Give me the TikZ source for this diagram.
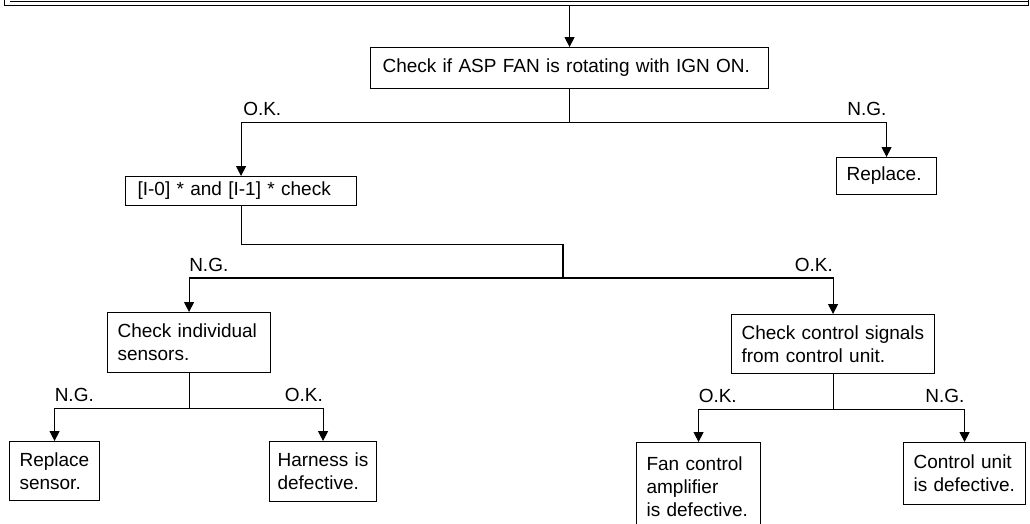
\documentclass[tikz,border=0pt]{standalone}
\usepackage{fontspec}
\setmainfont{Liberation Sans}
\usetikzlibrary{arrows.meta,calc}
\begin{document}
\begin{tikzpicture}[x=1pt,y=-1pt,
  txt/.style={font=\fontsize{19}{23}\selectfont},
  box/.style={txt, draw, line width=1.1pt, anchor=north west, align=left, inner xsep=10pt, inner ysep=0pt},
  lbl/.style={txt, inner sep=0pt, yshift=6pt},
  ln/.style={line width=1.1pt},
  arr/.style={ln, -{Triangle[length=10pt,width=10pt]}}]
\useasboundingbox (0,0) rectangle (1030,523);

% cut-off box at the top
\node[draw, line width=1.1pt, minimum width=1024, minimum height=30, inner sep=0pt, anchor=south west] (top) at (4,6) {};
\draw[ln] (10,1.5) -- (1028,1.5);

% boxes
\node[box, inner xsep=12pt, minimum width=398, minimum height=41, text width=374] (main) at (370,47) {Check if ASP FAN is rotating with IGN ON.};
\node[box, minimum width=100, minimum height=37, text width=80] (rep) at (836,157) {Replace.};
\node[box, inner xsep=12pt, minimum width=231, minimum height=29, text width=207] (chk) at (125,176) {[I-0]~* and [I-1]~* check};
\node[box, minimum width=163, minimum height=60, text width=143] (ind) at (107,312) {Check individual\\sensors.};
\node[box, minimum width=203, minimum height=59, text width=183] (ctl) at (731,314) {Check control signals\\from control unit.};
\node[box, minimum width=90, minimum height=59, text width=70] (rs) at (9,441) {Replace\\sensor.};
\node[box, inner xsep=8pt, minimum width=107, minimum height=60, text width=91] (har) at (269,441) {Harness is\\defective.};
\node[box, minimum width=124, minimum height=88, text width=104] (fan) at (636,442) {Fan control\\amplifier\\is defective.};
\node[box, minimum width=122, minimum height=62, text width=102] (cu) at (903,442) {Control unit\\is defective.};

% connectors
\draw[arr] (top.south -| main.north) -- (main.north);

\draw[ln] (main.south) -- ++(0,33) coordinate (j1);
\draw[arr] (j1) -| (chk.north);
\draw[arr] (j1) -| (rep.north);
\path (j1 -| chk.north) node[lbl, anchor=south west, xshift=2pt] {O.K.};
\path (j1 -| rep.north) node[lbl, anchor=south east] {N.G.};

\coordinate (j2) at (563,278);
\draw[ln] (chk.south) -- ++(0,38) -| (j2);
\draw[arr] (j2) -| (ind.north);
\draw[arr] (j2) -| (ctl.north);
\path (j2 -| ind.north) node[lbl, anchor=south west] {N.G.};
\path (j2 -| ctl.north) node[lbl, anchor=south east] {O.K.};

\draw[ln] (ind.south) -- ++(0,35) coordinate (j3);
\draw[arr] (j3) -| (rs.north);
\draw[arr] (j3) -| (har.north);
\path (j3 -| rs.north) node[lbl, anchor=south west] {N.G.};
\path (j3 -| har.north) node[lbl, anchor=south east] {O.K.};

\draw[ln] (ctl.south) -- ++(0,35) coordinate (j4);
\draw[arr] (j4) -| (fan.north);
\draw[arr] (j4) -| (cu.north);
\path (j4 -| fan.north) node[lbl, anchor=south west] {O.K.};
\path (j4 -| cu.north) node[lbl, anchor=south east] {N.G.};
\end{tikzpicture}
\end{document}
